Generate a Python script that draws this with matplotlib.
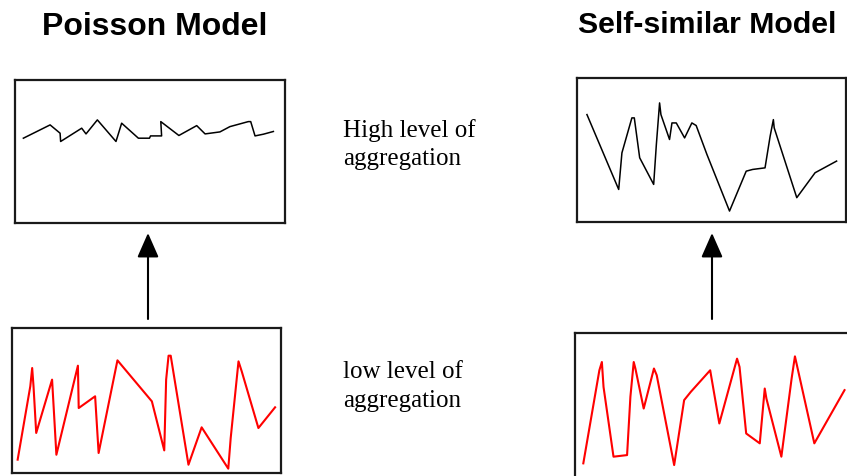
import matplotlib
matplotlib.use("Agg")
import matplotlib.pyplot as plt
from matplotlib.patches import FancyArrowPatch

W, H = 847, 476

# traces, x and y in percent of the panel box
poisson_high_x = [3.1, 13.0, 16.7, 16.9, 24.7, 26.3, 30.5, 37.4, 39.5, 45.7, 49.8, 50.2,
                  54.3, 54.0, 60.7, 67.3, 70.4, 75.9, 79.6, 86.4, 87.3, 88.9, 92.0, 95.7]
poisson_high_y = [59.3, 68.6, 62.8, 57.0, 66.3, 62.3, 72.1, 57.0, 69.8, 59.3, 59.3, 60.9,
                  60.9, 70.9, 61.2, 68.1, 62.3, 63.7, 67.4, 70.9, 70.9, 60.9, 62.1, 64.0]

selfsim_high_x = [3.7, 15.5, 16.7, 20.4, 21.3, 23.3, 28.5, 29.5, 30.7, 31.2, 34.4, 35.3,
                  36.9, 40.0, 42.7, 44.3, 48.3, 56.7, 62.9, 65.3, 69.9, 71.8, 73.0, 73.3,
                  81.7, 88.5, 96.5]
selfsim_high_y = [74.6, 22.6, 48.0, 72.3, 72.3, 44.6, 26.1, 53.8, 82.7, 74.6, 57.3, 68.8,
                  68.8, 58.4, 68.8, 67.0, 46.9, 7.6, 35.3, 36.5, 37.6, 59.6, 71.1, 65.4,
                  16.9, 34.2, 42.3]

poisson_low_x = [2.1, 6.8, 7.5, 8.0, 9.0, 14.9, 16.5, 24.5, 24.8, 30.9, 32.2, 39.2, 52.0,
                 56.6, 57.3, 58.2, 59.0, 65.6, 70.5, 80.4, 81.3, 84.2, 85.4, 91.6, 97.8]
poisson_low_y = [9.2, 59.8, 72.4, 59.8, 27.6, 64.4, 12.6, 74.0, 44.8, 52.9, 13.8, 77.7, 49.4,
                 15.6, 64.4, 80.9, 80.9, 5.7, 31.5, 3.0, 24.1, 77.0, 70.1, 31.0, 45.3]

selfsim_low_x = [3.0, 8.8, 9.7, 10.3, 13.9, 18.8, 20.0, 21.2, 21.8, 24.8, 28.5, 29.5, 35.8,
                 39.4, 41.8, 48.8, 52.1, 58.5, 59.4, 61.8, 66.7, 68.5, 69.1, 74.5, 78.2,
                 79.4, 86.4, 97.3]
selfsim_low_y = [10.1, 74.3, 80.0, 62.8, 14.7, 15.8, 56.0, 80.0, 75.5, 47.9, 75.5, 70.9, 8.9,
                 53.7, 59.4, 74.3, 37.6, 82.3, 76.6, 30.7, 23.9, 61.7, 54.8, 14.7, 68.6,
                 83.9, 23.9, 60.6]

titles = ["Poisson Model", "Self-similar Model"]
high_label = ["High level of", "aggregation"]
low_label = ["low level of", "aggregation"]


def px_box(x0, y0, x1, y1):
    # pixel box (top-left origin) -> figure fraction [left, bottom, width, height]
    return [x0 / W, 1 - y1 / H, (x1 - x0) / W, (y1 - y0) / H]


def fx(x):
    return x / W


def fy(y):
    return 1 - y / H


fig = plt.figure(figsize=(W / 100, H / 100), dpi=100)
fig.patch.set_facecolor("white")

panels = [
    ((15, 80, 285, 223), poisson_high_x, poisson_high_y, "black", 1.1),
    ((577, 78, 846, 222), selfsim_high_x, selfsim_high_y, "black", 1.1),
    ((12, 328, 281, 473), poisson_low_x, poisson_low_y, "red", 1.5),
    ((575, 333, 852, 478), selfsim_low_x, selfsim_low_y, "red", 1.5),
]

for box, xs, ys, col, lw in panels:
    ax = fig.add_axes(px_box(*box))
    ax.plot(xs, ys, color=col, lw=lw)
    ax.set_xlim(0, 100)
    ax.set_ylim(0, 100)
    ax.set_xticks([])
    ax.set_yticks([])
    for sp in ax.spines.values():
        sp.set_linewidth(1.6)
        sp.set_color("#1a1a1a")

# titles
fig.text(fx(42), fy(35), titles[0], fontsize=23, fontweight="bold",
         family="Liberation Sans", va="baseline", ha="left")
fig.text(fx(578), fy(33), titles[1], fontsize=21.8, fontweight="bold",
         family="Liberation Sans", va="baseline", ha="left")

# middle labels
for lines, baselines in [(high_label, [137, 165]), (low_label, [378, 407])]:
    for s, b in zip(lines, baselines):
        fig.text(fx(343), fy(b), s, fontsize=18, family="Liberation Serif",
                 va="baseline", ha="left")

# arrows between the panels
for xa in [148, 712]:
    arr = FancyArrowPatch((fx(xa), fy(319)), (fx(xa), fy(233)),
                          transform=fig.transFigure,
                          arrowstyle="-|>,head_length=0.75,head_width=0.33",
                          mutation_scale=20, color="black", lw=1.5,
                          shrinkA=0, shrinkB=0)
    fig.add_artist(arr)

fig.savefig("out.png", dpi=100)
